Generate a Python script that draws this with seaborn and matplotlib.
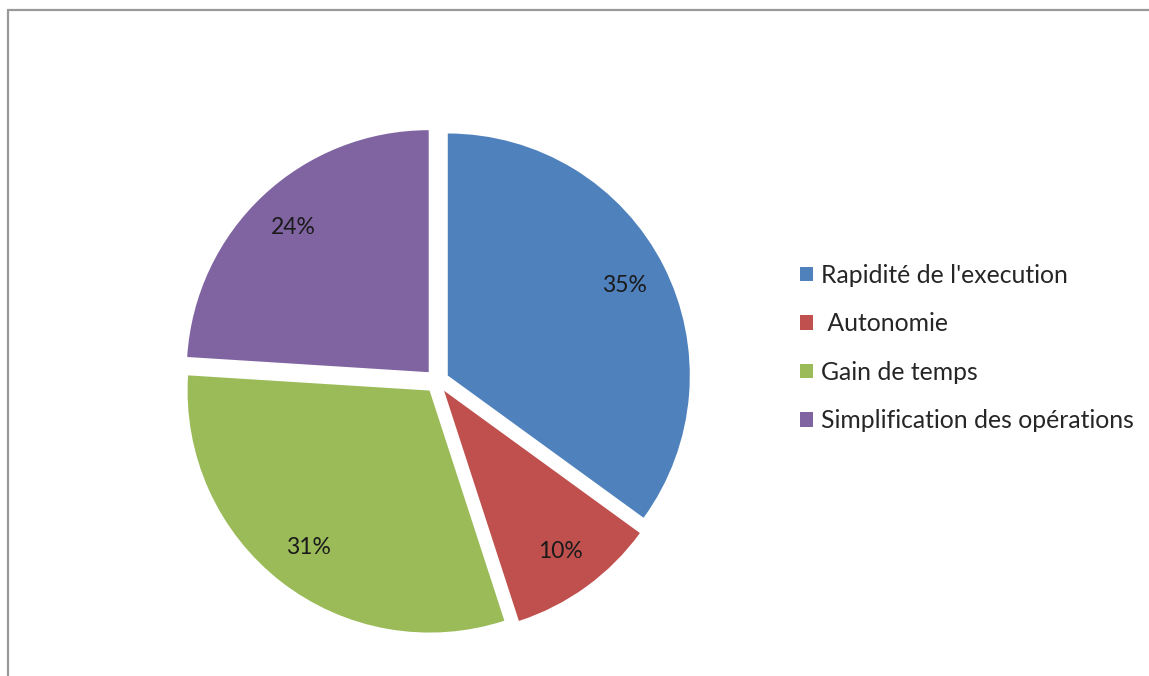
import matplotlib
matplotlib.use("Agg")
import matplotlib.pyplot as plt
from matplotlib.lines import Line2D
import seaborn as sns

categories = ["Rapidité de l'execution", " Autonomie", "Gain de temps", "Simplification des opérations"]
values = [35, 10, 31, 24]
colors = ["#4F81BD", "#C0504D", "#9BBB59", "#8064A2"]

sns.set_theme(style="white")
plt.rcParams['font.family'] = ['Lato', 'DejaVu Sans']

W, H = 1149, 676
fig = plt.figure(figsize=(W / 100, H / 100), dpi=100)
ax = fig.add_axes([0, 0, 1, 1])

cx, cy, r = 437, 381, 242
wedges, texts, autotexts = ax.pie(
    values, colors=sns.color_palette(colors), startangle=90, counterclock=False,
    explode=[0.05] * len(values), autopct='%1.0f%%', pctdistance=0.82,
    wedgeprops=dict(linewidth=0), textprops=dict(fontsize=16.5, color='#1a1a1a'))
ax.set_aspect('auto')
ax.set_xlim(-cx / r, (W - cx) / r)
ax.set_ylim(-(H - cy) / r, cy / r)
ax.axis('off')

ax.legend(wedges, categories, loc='upper left', bbox_to_anchor=(800 / W, 1 - 264 / H),
          bbox_transform=fig.transFigure, frameon=False, fontsize=17.8,
          handlelength=0.52, handleheight=0.52, handletextpad=0.32,
          labelspacing=1.03, borderpad=0, borderaxespad=0)

# outer border (partially visible)
fig.add_artist(Line2D([8 / W, 1], [1 - 10 / H, 1 - 10 / H], transform=fig.transFigure,
                      color='#999999', linewidth=1.6))
fig.add_artist(Line2D([8 / W, 8 / W], [0, 1 - 10 / H], transform=fig.transFigure,
                      color='#999999', linewidth=1.6))

fig.savefig("out.png", dpi=100, facecolor='white')
